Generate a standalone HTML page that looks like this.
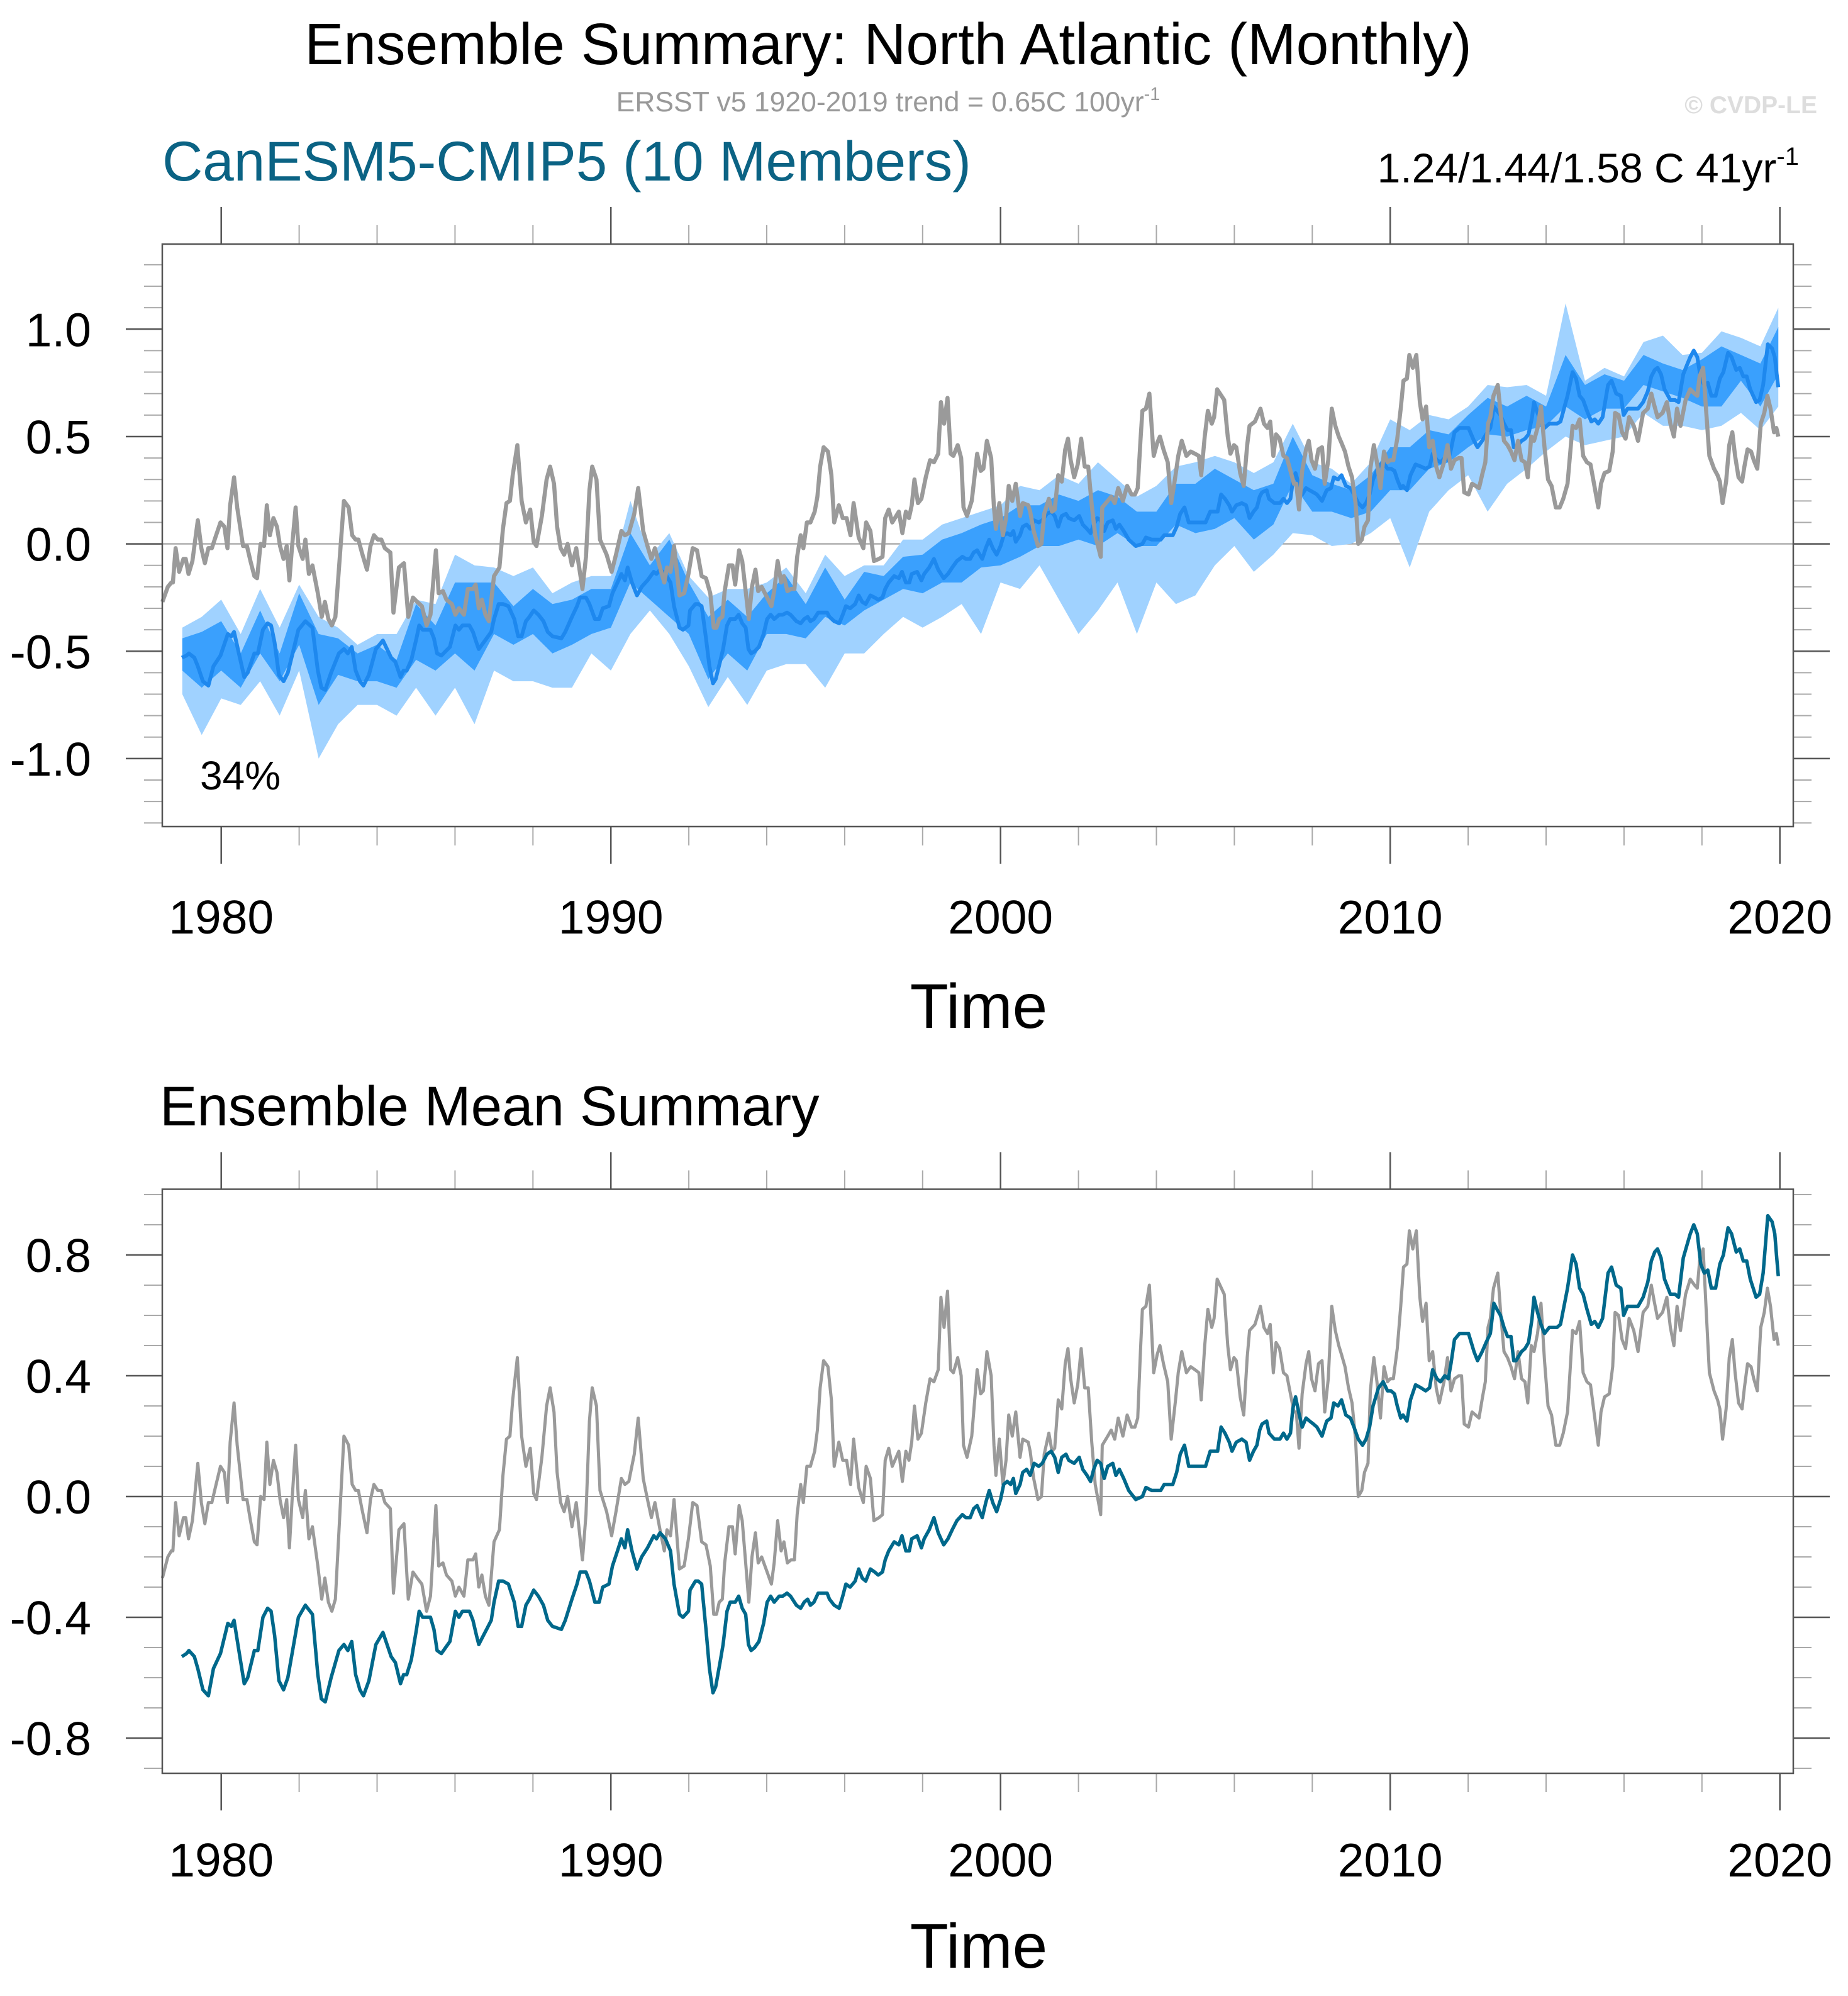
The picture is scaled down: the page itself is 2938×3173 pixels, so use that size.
<!DOCTYPE html>
<html><head><meta charset="utf-8"><style>
html,body{margin:0;padding:0;background:#fff;}
svg{display:block;font-family:"Liberation Sans",Arial,sans-serif;}
</style></head><body>
<svg id="chart" xmlns="http://www.w3.org/2000/svg" width="2938" height="3173" viewBox="0 0 2938 3173">
<rect width="2938" height="3173" fill="#fff"/>
<text x="1412" y="102" font-size="93" text-anchor="middle" fill="#000">Ensemble Summary: North Atlantic (Monthly)</text>
<text x="1412" y="177" font-size="44.5" text-anchor="middle" fill="#999">ERSST v5 1920-2019 trend = 0.65C 100yr<tspan dy="-18" font-size="29">-1</tspan></text>
<text x="2889" y="180" font-size="39" font-weight="bold" text-anchor="end" fill="#ddd">© CVDP-LE</text>
<text x="258" y="287" font-size="89" fill="#0b6384">CanESM5-CMIP5 (10 Members)</text>
<text x="2860" y="290" font-size="66" text-anchor="end" fill="#000">1.24/1.44/1.58 C 41yr<tspan dy="-28" font-size="40">-1</tspan></text>
<text x="318" y="1255" font-size="64" fill="#000">34%</text>
<text x="254" y="1789" font-size="89" fill="#000">Ensemble Mean Summary</text>
<text x="1556" y="1634" font-size="100" text-anchor="middle" fill="#000">Time</text>
<text x="1556" y="3128" font-size="100" text-anchor="middle" fill="#000">Time</text>
<g id="g"></g>
</svg>
<script>
const obsYears=[1978.49,1978.63,1978.72,1978.76,1978.83,1978.92,1979.03,1979.09,1979.16,1979.26,1979.40,1979.49,1979.58,1979.67,1979.76,1979.85,1979.98,1980.08,1980.16,1980.23,1980.33,1980.41,1980.56,1980.66,1980.75,1980.85,1980.92,1981.01,1981.10,1981.17,1981.25,1981.34,1981.43,1981.51,1981.60,1981.68,1981.75,1981.82,1981.91,1981.98,1982.09,1982.16,1982.25,1982.34,1982.48,1982.58,1982.66,1982.75,1982.84,1982.93,1983.04,1983.15,1983.27,1983.36,1983.45,1983.52,1983.61,1983.74,1983.83,1983.92,1984.02,1984.11,1984.20,1984.34,1984.42,1984.56,1984.69,1984.80,1984.92,1985.03,1985.15,1985.27,1985.37,1985.51,1985.58,1985.69,1985.78,1985.92,1986.01,1986.10,1986.23,1986.33,1986.46,1986.53,1986.61,1986.69,1986.78,1986.87,1987.00,1987.14,1987.23,1987.32,1987.41,1987.48,1987.60,1987.71,1987.82,1987.93,1988.02,1988.09,1988.23,1988.35,1988.44,1988.54,1988.62,1988.71,1988.80,1988.89,1989.00,1989.11,1989.27,1989.36,1989.45,1989.52,1989.63,1989.72,1989.89,1990.02,1990.13,1990.27,1990.36,1990.46,1990.60,1990.70,1990.83,1990.94,1991.04,1991.13,1991.26,1991.37,1991.44,1991.53,1991.62,1991.76,1991.88,1991.99,1992.10,1992.21,1992.33,1992.44,1992.55,1992.64,
1992.71,1992.78,1992.86,1992.92,1993.03,1993.12,1993.19,1993.29,1993.37,1993.46,1993.54,1993.62,1993.71,1993.78,1993.87,1994.01,1994.12,1994.19,1994.28,1994.37,1994.44,1994.53,1994.62,1994.71,1994.78,1994.87,1994.94,1995.03,1995.12,1995.23,1995.30,1995.37,1995.46,1995.57,1995.66,1995.73,1995.85,1995.95,1996.05,1996.15,1996.23,1996.36,1996.48,1996.55,1996.66,1996.75,1996.88,1996.97,1997.04,1997.13,1997.22,1997.39,1997.48,1997.57,1997.65,1997.72,1997.79,1997.88,1997.97,1998.08,1998.19,1998.29,1998.40,1998.47,1998.55,1998.64,1998.72,1998.79,1998.90,1998.99,1999.05,1999.14,1999.26,1999.40,1999.49,1999.56,1999.65,1999.76,1999.83,1999.88,1999.97,2000.06,2000.14,2000.21,2000.30,2000.39,2000.50,2000.57,2000.71,2000.76,2000.85,2000.96,2001.05,2001.12,2001.24,2001.32,2001.39,2001.48,2001.57,2001.66,2001.73,2001.80,2001.89,2001.98,2002.07,2002.16,2002.25,2002.34,2002.43,2002.50,2002.57,2002.61,2002.75,2002.84,2002.93,2003.02,2003.14,2003.25,2003.36,2003.45,2003.52,2003.59,2003.64,2003.73,2003.82,2003.93,2004.02,2004.09,2004.18,2004.29,2004.38,2004.49,2004.56,2004.65,2004.77,2004.88,2004.99,2005.09,2005.15,2005.24,2005.32,2005.42,2005.48,2005.56,2005.74,2005.83,2005.90,2005.99,2006.05,2006.15,2006.24,2006.33,
2006.39,2006.53,2006.67,2006.76,2006.85,2006.92,2007.00,2007.07,2007.16,2007.26,2007.35,2007.44,2007.53,2007.59,2007.66,2007.74,2007.84,2007.91,2007.98,2008.07,2008.16,2008.25,2008.32,2008.41,2008.50,2008.59,2008.68,2008.75,2008.84,2008.93,2009.02,2009.11,2009.18,2009.27,2009.34,2009.43,2009.49,2009.58,2009.66,2009.75,2009.84,2009.93,2010.00,2010.08,2010.18,2010.27,2010.34,2010.43,2010.49,2010.58,2010.67,2010.76,2010.83,2010.92,2011.00,2011.09,2011.18,2011.26,2011.38,2011.47,2011.56,2011.65,2011.76,2011.83,2011.90,2012.01,2012.10,2012.19,2012.28,2012.37,2012.44,2012.51,2012.57,2012.65,2012.76,2012.84,2012.92,2013.01,2013.10,2013.19,2013.28,2013.37,2013.46,2013.53,2013.62,2013.69,2013.78,2013.87,2013.96,2014.05,2014.14,2014.25,2014.35,2014.44,2014.55,2014.68,2014.77,2014.86,2014.95,2015.05,2015.14,2015.23,2015.34,2015.41,2015.50,2015.62,2015.71,2015.77,2015.86,2015.95,2016.04,2016.13,2016.25,2016.36,2016.49,2016.61,2016.70,2016.77,2016.86,2016.99,2017.10,2017.19,2017.28,2017.36,2017.45,2017.58,2017.70,2017.81,2017.88,2017.94,2018.03,2018.12,2018.19,2018.31,2018.40,2018.46,2018.53,2018.62,2018.70,2018.78,2018.85,2018.94,2019.03,2019.09,2019.17,2019.26,2019.33,2019.42,2019.51,2019.60,2019.68,2019.76,2019.85,2019.91,2019.96];
const obsVals=[-0.27,-0.20,-0.18,-0.18,-0.02,-0.13,-0.07,-0.07,-0.14,-0.08,0.11,-0.02,-0.09,-0.02,-0.02,0.03,0.10,0.08,-0.02,0.18,0.31,0.17,-0.01,-0.01,-0.08,-0.15,-0.16,0.00,-0.01,0.18,0.04,0.12,0.08,-0.01,-0.07,-0.01,-0.17,-0.01,0.17,-0.01,-0.07,0.02,-0.14,-0.10,-0.23,-0.34,-0.27,-0.35,-0.38,-0.34,-0.07,0.20,0.17,0.04,0.02,0.02,-0.04,-0.12,-0.01,0.04,0.02,0.02,-0.02,-0.04,-0.32,-0.11,-0.09,-0.34,-0.25,-0.27,-0.29,-0.38,-0.33,-0.03,-0.23,-0.22,-0.26,-0.28,-0.33,-0.30,-0.33,-0.21,-0.21,-0.19,-0.30,-0.26,-0.33,-0.36,-0.15,-0.11,0.07,0.19,0.20,0.32,0.46,0.20,0.10,0.16,0.01,-0.01,0.13,0.30,0.36,0.28,0.08,-0.02,-0.05,0.00,-0.10,-0.02,-0.21,-0.06,0.25,0.36,0.30,0.02,-0.05,-0.13,-0.05,0.06,0.04,0.05,0.14,0.26,0.06,-0.01,-0.07,-0.02,-0.11,-0.18,-0.11,-0.13,-0.01,-0.24,-0.23,-0.14,-0.02,-0.03,-0.15,-0.16,-0.23,-0.39,
-0.39,-0.35,-0.34,-0.22,-0.10,-0.10,-0.19,-0.03,-0.08,-0.22,-0.35,-0.20,-0.12,-0.22,-0.20,-0.25,-0.29,-0.22,-0.08,-0.18,-0.15,-0.22,-0.21,-0.21,-0.06,0.04,-0.02,0.10,0.10,0.15,0.22,0.36,0.45,0.43,0.32,0.10,0.18,0.12,0.12,0.04,0.19,0.03,-0.02,0.10,0.06,-0.08,-0.07,-0.06,0.12,0.16,0.10,0.15,0.05,0.15,0.12,0.18,0.30,0.19,0.21,0.31,0.39,0.38,0.42,0.66,0.56,0.68,0.42,0.41,0.46,0.40,0.17,0.13,0.20,0.42,0.34,0.35,0.48,0.40,0.17,0.07,0.19,0.04,0.12,0.27,0.20,0.28,0.13,0.19,0.18,0.15,0.06,-0.01,0.00,0.14,0.21,0.15,0.16,0.32,0.29,0.44,0.49,0.39,0.31,0.37,0.49,0.36,0.36,0.18,0.04,-0.01,-0.06,0.17,0.20,0.22,0.19,0.26,0.20,0.27,0.23,0.23,0.26,0.48,0.62,0.63,0.70,0.41,0.47,0.50,0.44,0.38,0.19,0.32,0.41,0.48,0.41,0.43,0.42,0.41,0.32,0.50,0.62,0.56,0.59,0.72,0.67,0.50,0.42,0.46,0.45,0.33,0.27,0.46,
0.55,0.57,0.63,0.56,0.54,0.57,0.41,0.51,0.49,0.41,0.40,0.34,0.28,0.28,0.16,0.34,0.44,0.48,0.39,0.35,0.44,0.45,0.28,0.39,0.63,0.55,0.50,0.47,0.43,0.36,0.31,0.19,0.00,0.02,0.08,0.11,0.35,0.46,0.38,0.26,0.43,0.38,0.39,0.39,0.49,0.63,0.76,0.77,0.88,0.82,0.88,0.66,0.58,0.64,0.45,0.48,0.36,0.31,0.38,0.46,0.35,0.39,0.40,0.40,0.24,0.23,0.28,0.27,0.26,0.33,0.38,0.56,0.59,0.69,0.74,0.60,0.48,0.46,0.43,0.39,0.48,0.39,0.38,0.31,0.50,0.48,0.54,0.64,0.45,0.30,0.27,0.17,0.17,0.21,0.28,0.55,0.54,0.58,0.41,0.38,0.37,0.28,0.17,0.28,0.33,0.34,0.43,0.61,0.60,0.52,0.49,0.59,0.55,0.48,0.61,0.63,0.70,0.65,0.59,0.61,0.66,0.56,0.50,0.63,0.55,0.67,0.72,0.70,0.69,0.78,0.82,0.59,0.41,0.35,0.32,0.29,0.19,0.29,0.46,0.52,0.41,0.31,0.29,0.36,0.44,0.43,0.39,0.35,0.56,0.61,0.69,0.63,0.52,0.54,0.50];
const meanYears=[1978.99,1979.11,1979.17,1979.31,1979.40,1979.53,1979.67,1979.80,1979.98,1980.17,1980.26,1980.33,1980.44,1980.59,1980.68,1980.85,1980.94,1981.07,1981.19,1981.28,1981.37,1981.48,1981.60,1981.71,1981.86,1981.98,1982.16,1982.34,1982.48,1982.57,1982.67,1982.82,1983.02,1983.15,1983.25,1983.35,1983.45,1983.56,1983.65,1983.79,1983.97,1984.15,1984.36,1984.47,1984.60,1984.68,1984.76,1984.88,1985.01,1985.08,1985.17,1985.37,1985.46,1985.54,1985.65,1985.87,1986.01,1986.10,1986.19,1986.37,1986.46,1986.55,1986.61,1986.73,1986.81,1986.93,1987.00,1987.12,1987.23,1987.37,1987.52,1987.62,1987.71,1987.82,1987.91,1988.02,1988.14,1988.27,1988.38,1988.50,1988.73,1988.83,1989.00,1989.13,1989.21,1989.36,1989.45,1989.59,1989.70,1989.79,1989.95,1990.04,1990.17,1990.27,1990.36,1990.43,1990.54,1990.67,1990.79,1990.94,1991.10,1991.17,1991.26,1991.40,1991.53,1991.62,1991.76,1991.85,1991.99,1992.03,1992.17,1992.24,1992.33,1992.44,1992.53,1992.62,
1992.69,1992.80,1992.88,1992.98,1993.06,1993.19,1993.28,1993.37,1993.46,1993.53,1993.60,1993.69,1993.80,1993.92,1994.01,1994.10,1994.19,1994.32,1994.41,1994.52,1994.61,1994.76,1994.87,1994.96,1995.05,1995.12,1995.21,1995.32,1995.41,1995.55,1995.61,1995.73,1995.86,1995.95,1996.03,1996.14,1996.27,1996.36,1996.45,1996.54,1996.66,1996.77,1996.86,1996.97,1997.04,1997.13,1997.27,1997.39,1997.47,1997.57,1997.66,1997.72,1997.86,1997.97,1998.04,1998.17,1998.29,1998.40,1998.54,1998.65,1998.76,1998.88,1999.02,1999.11,1999.22,1999.31,1999.40,1999.53,1999.62,1999.71,1999.80,1999.90,2000.00,2000.08,2000.17,2000.26,2000.33,2000.39,2000.50,2000.57,2000.67,2000.76,2000.86,2000.98,2001.07,2001.19,2001.30,2001.39,2001.48,2001.57,2001.68,2001.75,2001.89,2002.02,2002.11,2002.22,2002.31,2002.39,2002.48,2002.57,2002.66,2002.75,2002.88,2002.96,2003.05,2003.16,2003.29,2003.47,2003.64,2003.73,2003.88,2004.00,2004.11,2004.20,2004.29,2004.42,2004.52,2004.61,2004.72,2004.83,2004.92,2005.01,2005.15,2005.26,2005.38,2005.47,2005.57,2005.66,2005.76,2005.87,2005.94,2006.05,2006.19,2006.30,
2006.39,2006.49,2006.58,2006.65,2006.71,2006.83,2006.89,2007.03,2007.17,2007.26,2007.35,2007.44,2007.50,2007.57,2007.65,2007.74,2007.84,2007.93,2008.03,2008.12,2008.25,2008.37,2008.48,2008.55,2008.66,2008.75,2008.86,2008.98,2009.07,2009.18,2009.29,2009.38,2009.47,2009.56,2009.70,2009.82,2009.93,2010.02,2010.11,2010.18,2010.27,2010.33,2010.43,2010.52,2010.65,2010.79,2010.91,2011.01,2011.09,2011.20,2011.29,2011.40,2011.49,2011.56,2011.65,2011.78,2011.92,2012.01,2012.15,2012.24,2012.36,2012.46,2012.57,2012.66,2012.74,2012.83,2012.92,2013.01,2013.10,2013.17,2013.23,2013.37,2013.46,2013.55,2013.64,2013.69,2013.78,2013.87,2013.96,2014.08,2014.17,2014.28,2014.37,2014.46,2014.55,2014.68,2014.77,2014.86,2014.95,2015.05,2015.16,2015.25,2015.34,2015.45,2015.59,2015.68,2015.80,2015.92,2015.99,2016.09,2016.22,2016.36,2016.49,2016.61,2016.70,2016.79,2016.86,2016.95,2017.04,2017.19,2017.31,2017.40,2017.52,2017.61,2017.70,2017.79,2017.88,2017.97,2018.06,2018.15,2018.24,2018.35,2018.46,2018.55,2018.67,2018.76,2018.88,2018.97,2019.06,2019.15,2019.24,2019.39,2019.48,2019.57,2019.69,2019.80,2019.87,2019.92,2019.96];
const meanVals=[-0.53,-0.52,-0.51,-0.53,-0.57,-0.64,-0.66,-0.57,-0.52,-0.42,-0.43,-0.41,-0.50,-0.62,-0.60,-0.51,-0.51,-0.40,-0.37,-0.38,-0.46,-0.61,-0.64,-0.60,-0.49,-0.40,-0.36,-0.39,-0.59,-0.67,-0.68,-0.60,-0.51,-0.49,-0.51,-0.48,-0.59,-0.64,-0.66,-0.61,-0.49,-0.45,-0.53,-0.55,-0.62,-0.59,-0.59,-0.54,-0.44,-0.38,-0.40,-0.40,-0.44,-0.51,-0.52,-0.48,-0.38,-0.40,-0.38,-0.38,-0.41,-0.46,-0.49,-0.46,-0.44,-0.41,-0.35,-0.28,-0.28,-0.29,-0.35,-0.43,-0.43,-0.36,-0.34,-0.31,-0.33,-0.36,-0.41,-0.43,-0.44,-0.41,-0.34,-0.29,-0.25,-0.25,-0.28,-0.35,-0.35,-0.30,-0.29,-0.23,-0.18,-0.14,-0.17,-0.11,-0.18,-0.24,-0.20,-0.17,-0.13,-0.14,-0.12,-0.14,-0.18,-0.29,-0.39,-0.40,-0.38,-0.31,-0.28,-0.28,-0.29,-0.44,-0.57,-0.65,
-0.63,-0.55,-0.49,-0.38,-0.35,-0.35,-0.33,-0.37,-0.39,-0.49,-0.51,-0.50,-0.48,-0.42,-0.35,-0.33,-0.35,-0.33,-0.33,-0.32,-0.33,-0.36,-0.37,-0.35,-0.34,-0.36,-0.35,-0.32,-0.32,-0.32,-0.34,-0.36,-0.37,-0.33,-0.29,-0.30,-0.28,-0.24,-0.27,-0.28,-0.24,-0.25,-0.26,-0.25,-0.21,-0.18,-0.15,-0.16,-0.13,-0.18,-0.18,-0.14,-0.13,-0.17,-0.14,-0.11,-0.07,-0.12,-0.16,-0.14,-0.11,-0.08,-0.06,-0.07,-0.07,-0.04,-0.03,-0.07,-0.02,0.02,-0.02,-0.05,-0.01,0.04,0.05,0.04,0.06,0.01,0.04,0.08,0.09,0.07,0.11,0.10,0.11,0.14,0.15,0.13,0.08,0.13,0.14,0.12,0.11,0.13,0.09,0.07,0.05,0.09,0.12,0.11,0.06,0.10,0.11,0.07,0.09,0.06,0.02,-0.01,0.00,0.03,0.02,0.02,0.02,0.04,0.04,0.04,0.08,0.14,0.17,0.10,0.10,0.10,0.10,0.10,0.15,0.15,0.15,0.23,0.21,0.18,0.15,0.18,0.19,0.18,
0.12,0.15,0.17,0.22,0.24,0.25,0.21,0.19,0.19,0.21,0.19,0.21,0.29,0.33,0.28,0.23,0.26,0.25,0.24,0.23,0.20,0.25,0.26,0.31,0.30,0.32,0.27,0.26,0.23,0.19,0.17,0.19,0.23,0.30,0.36,0.38,0.35,0.35,0.34,0.30,0.26,0.27,0.25,0.32,0.37,0.36,0.35,0.36,0.42,0.39,0.38,0.40,0.39,0.44,0.52,0.54,0.54,0.54,0.48,0.45,0.48,0.51,0.54,0.64,0.62,0.60,0.56,0.53,0.53,0.45,0.45,0.48,0.49,0.51,0.59,0.66,0.61,0.57,0.54,0.56,0.56,0.56,0.57,0.63,0.69,0.80,0.77,0.69,0.67,0.62,0.57,0.58,0.56,0.59,0.74,0.76,0.70,0.69,0.60,0.63,0.63,0.63,0.66,0.71,0.78,0.81,0.82,0.79,0.72,0.67,0.67,0.66,0.79,0.83,0.87,0.90,0.87,0.77,0.74,0.75,0.69,0.69,0.77,0.80,0.89,0.87,0.81,0.82,0.78,0.78,0.72,0.66,0.67,0.74,0.93,0.91,0.87,0.79,0.73];
const bandYears=[1979.0,1979.5,1980.0,1980.5,1981.0,1981.5,1982.0,1982.5,1983.0,1983.5,1984.0,1984.5,1985.0,1985.5,1986.0,1986.5,1987.0,1987.5,1988.0,1988.5,1989.0,1989.5,1990.0,1990.5,1991.0,1991.5,1992.0,1992.5,1993.0,1993.5,1994.0,1994.5,1995.0,1995.5,1996.0,1996.5,1997.0,1997.5,1998.0,1998.5,1999.0,1999.5,2000.0,2000.5,2001.0,2001.5,2002.0,2002.5,2003.0,2003.5,2004.0,2004.5,2005.0,2005.5,2006.0,2006.5,2007.0,2007.5,2008.0,2008.5,2009.0,2009.5,2010.0,2010.5,2011.0,2011.5,2012.0,2012.5,2013.0,2013.5,2014.0,2014.5,2015.0,2015.5,2016.0,2016.5,2017.0,2017.5,2018.0,2018.5,2019.0,2019.5,2019.96];
const lightUpper=[-0.39,-0.34,-0.26,-0.42,-0.21,-0.39,-0.19,-0.34,-0.39,-0.47,-0.42,-0.42,-0.26,-0.28,-0.05,-0.10,-0.11,-0.15,-0.11,-0.23,-0.18,-0.15,-0.15,0.20,-0.06,0.05,-0.15,-0.25,-0.21,-0.21,-0.18,-0.11,-0.23,-0.05,-0.15,-0.10,-0.10,0.02,0.02,0.09,0.12,0.15,0.18,0.27,0.25,0.32,0.28,0.38,0.30,0.22,0.27,0.36,0.38,0.41,0.38,0.33,0.38,0.56,0.38,0.35,0.28,0.38,0.58,0.53,0.60,0.58,0.64,0.74,0.73,0.74,0.69,1.12,0.76,0.82,0.78,0.94,0.97,0.88,0.89,0.99,0.96,0.92,1.10];
const darkUpper=[-0.44,-0.41,-0.36,-0.51,-0.31,-0.51,-0.23,-0.42,-0.44,-0.51,-0.47,-0.54,-0.28,-0.38,-0.18,-0.18,-0.18,-0.29,-0.21,-0.28,-0.26,-0.21,-0.21,0.05,-0.10,0.02,-0.18,-0.34,-0.26,-0.34,-0.23,-0.15,-0.28,-0.11,-0.26,-0.13,-0.15,-0.06,-0.05,0.02,0.05,0.09,0.12,0.18,0.18,0.23,0.20,0.25,0.22,0.15,0.15,0.28,0.28,0.35,0.30,0.25,0.28,0.50,0.32,0.28,0.25,0.32,0.45,0.45,0.53,0.51,0.60,0.68,0.64,0.69,0.64,0.88,0.74,0.79,0.76,0.88,0.84,0.81,0.86,0.92,0.88,0.84,1.01];
const darkLower=[-0.59,-0.67,-0.59,-0.67,-0.51,-0.64,-0.47,-0.75,-0.61,-0.64,-0.64,-0.67,-0.54,-0.59,-0.51,-0.59,-0.42,-0.47,-0.42,-0.51,-0.47,-0.42,-0.39,-0.18,-0.26,-0.34,-0.42,-0.63,-0.51,-0.59,-0.42,-0.42,-0.44,-0.34,-0.38,-0.31,-0.26,-0.21,-0.23,-0.18,-0.18,-0.11,-0.10,-0.06,-0.01,-0.01,0.02,-0.01,0.05,-0.01,-0.01,0.09,0.05,0.07,0.12,0.02,0.09,0.28,0.15,0.15,0.12,0.15,0.25,0.25,0.35,0.38,0.45,0.51,0.50,0.53,0.55,0.64,0.58,0.63,0.63,0.74,0.71,0.68,0.64,0.64,0.76,0.64,0.79];
const lightLower=[-0.70,-0.89,-0.72,-0.75,-0.64,-0.80,-0.59,-1.00,-0.84,-0.75,-0.75,-0.80,-0.67,-0.80,-0.67,-0.84,-0.59,-0.64,-0.64,-0.67,-0.67,-0.51,-0.59,-0.42,-0.31,-0.42,-0.57,-0.76,-0.62,-0.75,-0.59,-0.56,-0.56,-0.67,-0.51,-0.51,-0.42,-0.34,-0.39,-0.34,-0.28,-0.42,-0.18,-0.21,-0.10,-0.26,-0.42,-0.31,-0.18,-0.42,-0.18,-0.28,-0.24,-0.10,-0.01,-0.13,-0.05,0.05,0.04,-0.01,0.00,0.05,0.12,-0.11,0.15,0.25,0.32,0.15,0.28,0.35,0.43,0.50,0.46,0.48,0.50,0.61,0.55,0.55,0.53,0.55,0.61,0.53,0.64];
const xMajorTicks=[1980,1990,2000,2010,2020];
const topYMajor=[-1.0,-0.5,0.0,0.5,1.0];
const topYLabels=["-1.0","-0.5","0.0","0.5","1.0"];
const botYMajor=[-0.8,-0.4,0.0,0.4,0.8];
const botYLabels=["-0.8","-0.4","0.0","0.4","0.8"];

const NS="http://www.w3.org/2000/svg";
const G=document.getElementById('g');
const L=258,R=2851;
function xS(yr){return 351.7+(yr-1980)*61.95;}
function yTop(v){return 864.6-v*341.3;}
function yBot(v){return 2379-v*480;}
function mk(tag,attrs,parent){const e=document.createElementNS(NS,tag);for(const k in attrs)e.setAttribute(k,attrs[k]);(parent||G).appendChild(e);return e;}
function linePath(xs,ys,ySc){return xs.map((x,i)=>(i?'L':'M')+xS(x).toFixed(1)+' '+ySc(ys[i]).toFixed(1)).join('');}
function bandPath(xs,up,lo,ySc){let d=xs.map((x,i)=>(i?'L':'M')+xS(x).toFixed(1)+' '+ySc(up[i]).toFixed(1)).join('');for(let i=xs.length-1;i>=0;i--)d+='L'+xS(xs[i]).toFixed(1)+' '+ySc(lo[i]).toFixed(1);return d+'Z';}

function panel(name,T,B,ySc,majors,labels,minLo,minHi,xLabY){
  const pg=mk('g',{});
  
  
  for(let k=Math.round(minLo*10);k<=Math.round(minHi*10);k++){
    const v=k/10;const y=ySc(v);
    const t1=mk('line',{x1:L-29,x2:L,y1:y,y2:y,stroke:'#aaa','stroke-width':2},pg);
    
    
    const t2=mk('line',{x1:R,x2:R+29,y1:y,y2:y,stroke:'#aaa','stroke-width':2},pg);
    
    
  }
  majors.forEach((v,i)=>{
    const y=ySc(v);
    const t1=mk('line',{x1:L-58,x2:L,y1:y,y2:y,stroke:'#555','stroke-width':2.5},pg);
    
    
    const t2=mk('line',{x1:R,x2:R+58,y1:y,y2:y,stroke:'#555','stroke-width':2.5},pg);
    
    
    const tx=mk('text',{x:145,y:y+27,'font-size':75,'text-anchor':'end',fill:'#000'},pg);
    tx.textContent=labels[i];
    
    
  });
  for(let yr=1980;yr<=2020;yr+=2){
    const x=xS(yr);const maj=xMajorTicks.includes(yr);const len=maj?59:30;
    const a=mk('line',{x1:x,x2:x,y1:T-len,y2:T,stroke:maj?'#555':'#aaa','stroke-width':maj?2.5:2},pg);
    
    
    const b=mk('line',{x1:x,x2:x,y1:B,y2:B+len,stroke:maj?'#555':'#aaa','stroke-width':maj?2.5:2},pg);
    
    
  }
  xMajorTicks.forEach(yr=>{
    const tx=mk('text',{x:xS(yr),y:xLabY,'font-size':75,'text-anchor':'middle',fill:'#000'},pg);
    tx.textContent=String(yr);
    
    
  });
  const z=mk('line',{x1:L,x2:R,y1:ySc(0),y2:ySc(0),stroke:'#999','stroke-width':2},pg);
  
  
  return pg;
}

const p1=panel('top-panel',388,1314,yTop,topYMajor,topYLabels,-1.3,1.3,1484);
const lb=mk('path',{d:bandPath(bandYears,lightUpper,lightLower,yTop),fill:'#a0d2ff'},p1);


const db=mk('path',{d:bandPath(bandYears,darkUpper,darkLower,yTop),fill:'#3aa0fd'},p1);


const m1=mk('path',{d:linePath(meanYears,meanVals,yTop),fill:'none',stroke:'#1e88ee','stroke-width':6,'stroke-linejoin':'round'},p1);


const o1=mk('path',{d:linePath(obsYears,obsVals,yTop),fill:'none',stroke:'#9a9a9a','stroke-width':6.5,'stroke-linejoin':'round'},p1);


const f1=mk('rect',{x:L,y:388,width:R-L,height:1314-388,fill:'none',stroke:'#555','stroke-width':2.5},p1);



const p2=panel('bottom-panel',1890.5,2819,yBot,botYMajor,botYLabels,-0.9,1.0,2983);
const o2=mk('path',{d:linePath(obsYears,obsVals,yBot),fill:'none',stroke:'#9a9a9a','stroke-width':5,'stroke-linejoin':'round'},p2);


const m2=mk('path',{d:linePath(meanYears,meanVals,yBot),fill:'none',stroke:'#00688b','stroke-width':5.5,'stroke-linejoin':'round'},p2);


const f2=mk('rect',{x:L,y:1890.5,width:R-L,height:2819-1890.5,fill:'none',stroke:'#555','stroke-width':2.5},p2);


</script>
</body></html>
